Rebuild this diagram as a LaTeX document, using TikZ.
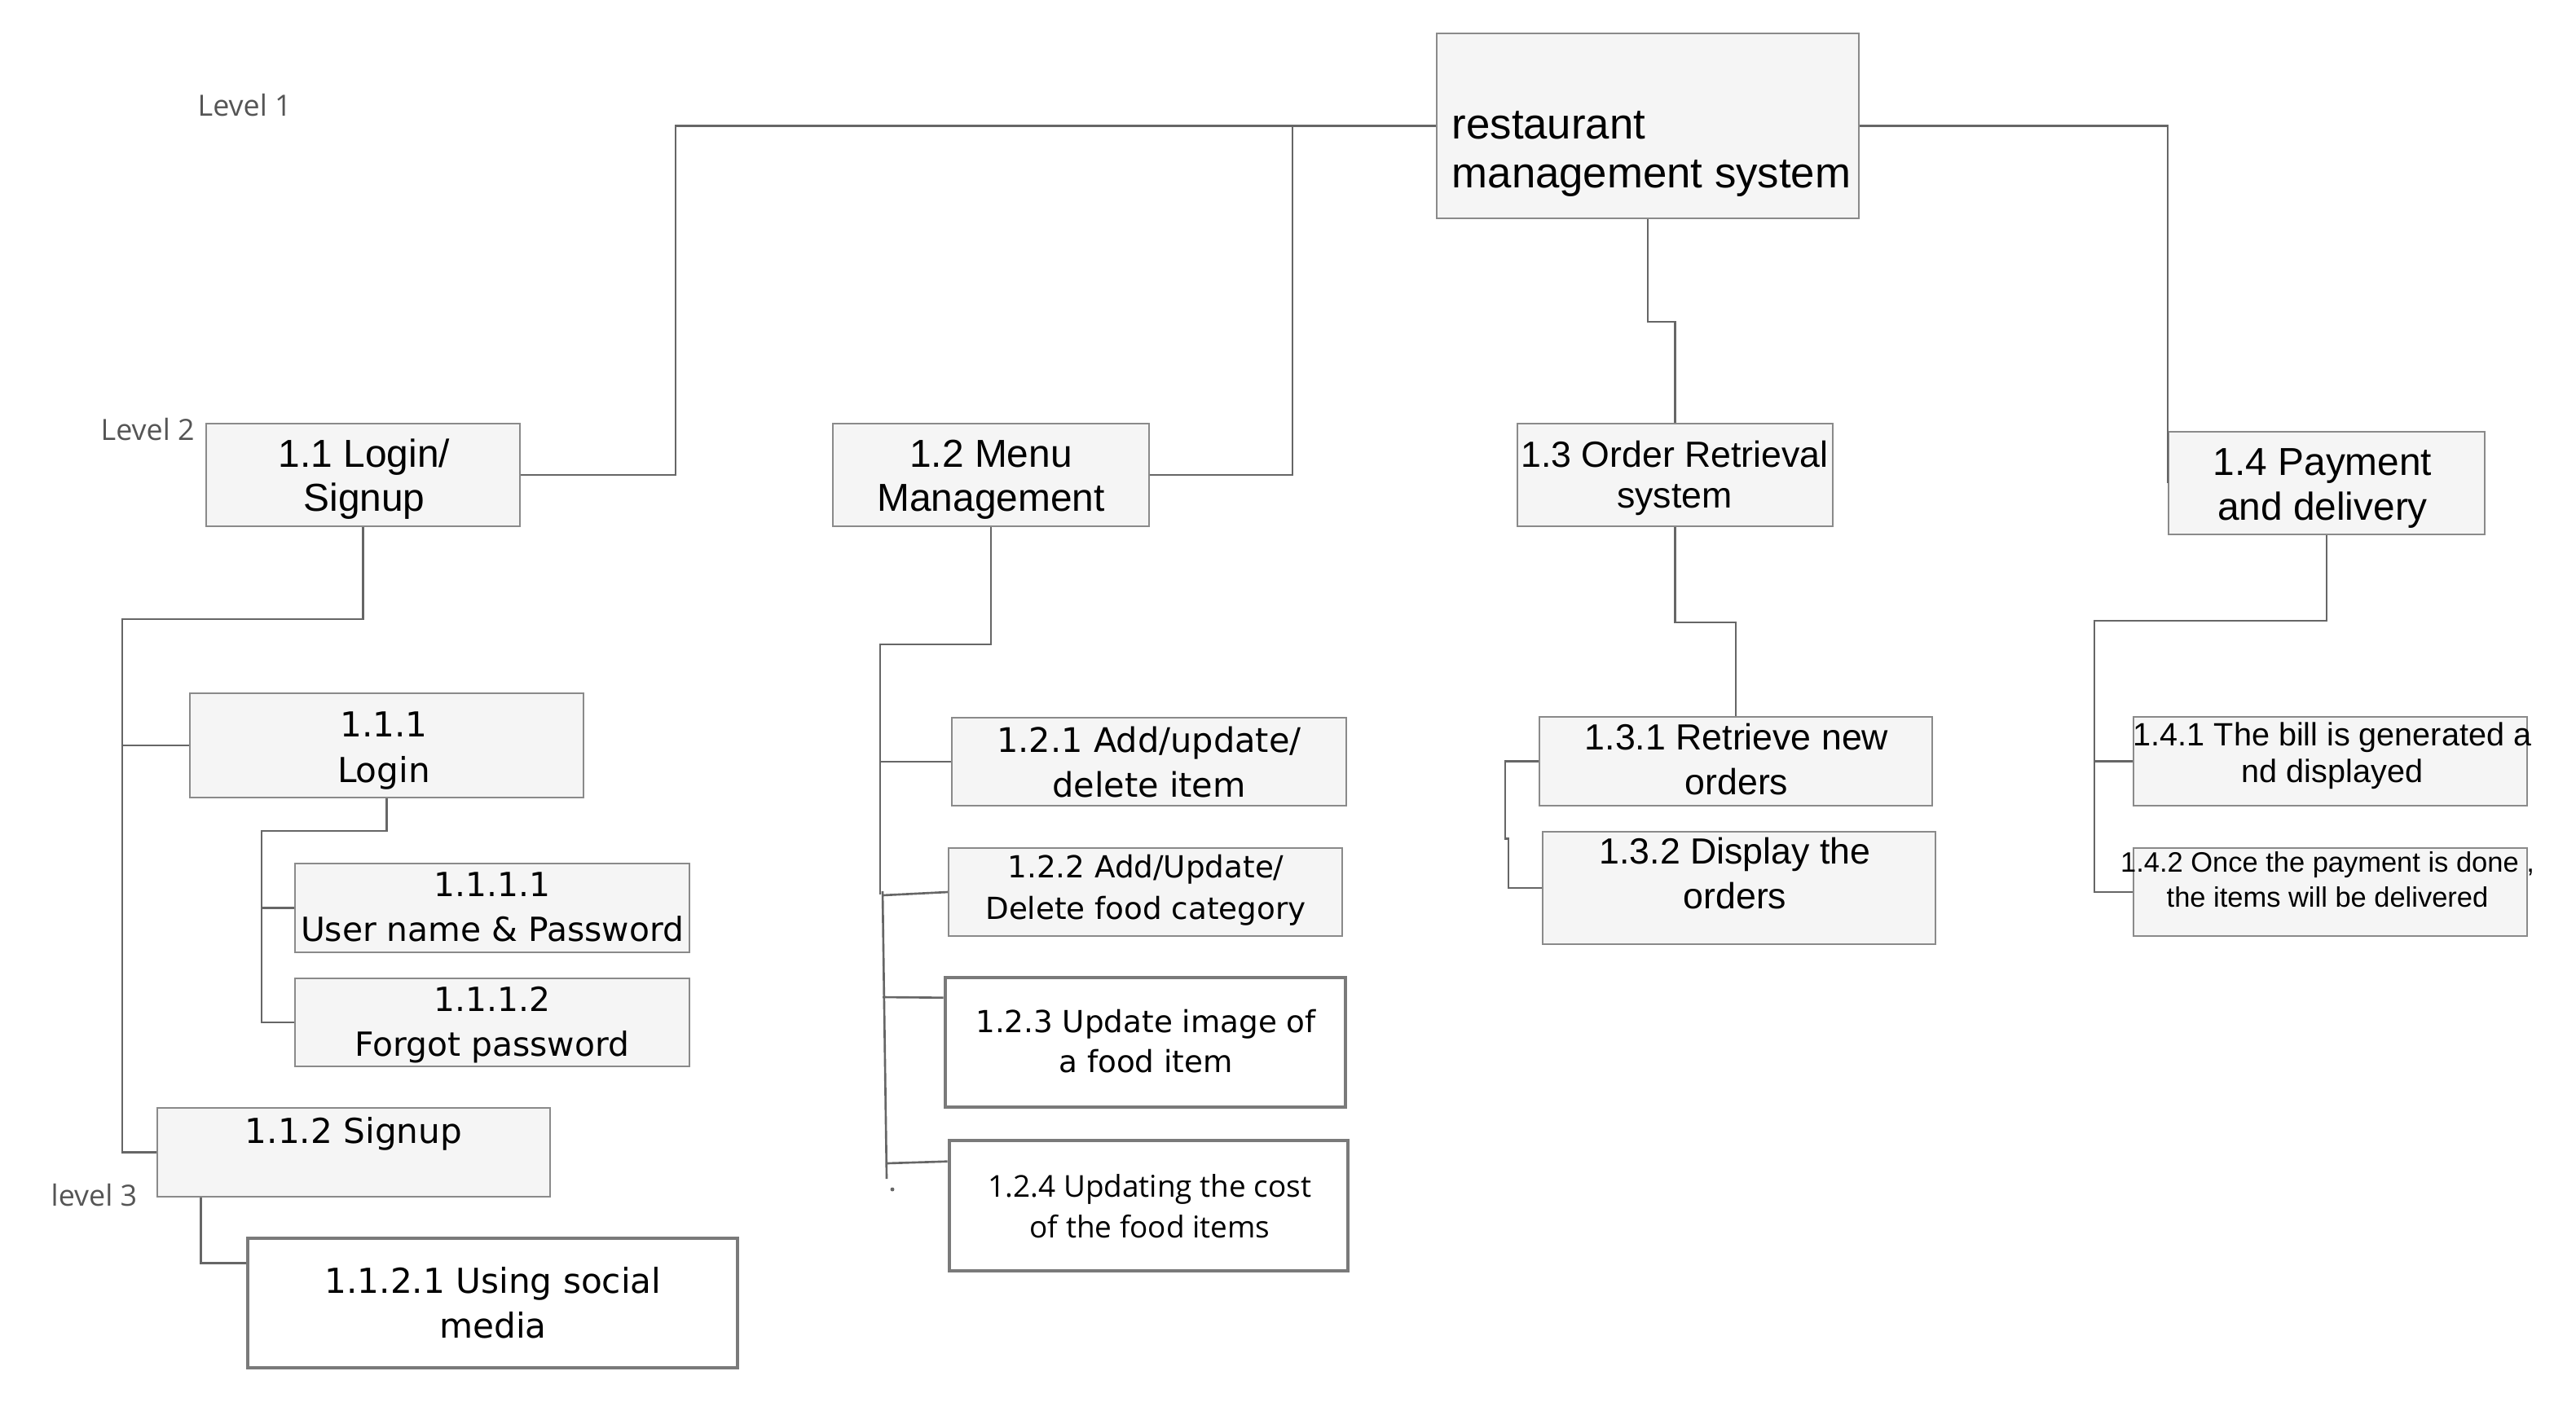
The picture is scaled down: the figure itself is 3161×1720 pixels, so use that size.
\documentclass[tikz,border=0pt]{standalone}
\usepackage{fontspec}
\setmainfont{Liberation Sans}
\newfontfamily\dejavufont{DejaVu Sans}
\newfontfamily\opensansfont{Open Sans}
\usetikzlibrary{calc}
\definecolor{boxfill}{HTML}{F5F5F5}
\definecolor{boxline}{HTML}{8A8A8A}
\definecolor{thickline}{HTML}{7A7A7A}
\definecolor{linkline}{HTML}{666666}
\definecolor{levelgray}{HTML}{555555}
\tikzset{
  box/.style={draw=boxline, fill=boxfill, line width=0.6pt, inner sep=0pt},
  boldbox/.style={draw=thickline, fill=white, line width=1.3pt, inner sep=0pt},
  txt/.style={align=center, inner sep=0pt, anchor=base},
  arial/.style 2 args={txt, font=\fontsize{#1}{#2}\selectfont},
  dejavu/.style 2 args={txt, font=\dejavufont\fontsize{#1}{#2}\selectfont},
  opens/.style 2 args={txt, font=\opensansfont\fontsize{#1}{#2}\selectfont},
  conn/.style={draw=linkline, line width=0.75pt},
  level/.style={anchor=base west, inner sep=0pt, text=levelgray, font=\opensansfont\fontsize{10.2}{12}\selectfont}
}
\begin{document}
\begin{tikzpicture}[x=0.01cm, y=0.01cm]
\useasboundingbox (0,0) rectangle (3161,-1720);

\node[level] (lv1) at (242,-142) {Level 1};
\node[level] (lv2) at (123,-540) {Level 2};
\node[level] (lv3) at (62,-1480) {level 3};

\node[box, minimum width=5.18cm, minimum height=2.27cm] (root) at (2022,-154.5) {};
\node[box, minimum width=3.85cm, minimum height=1.26cm] (p11) at (445.5,-583) {};
\node[box, minimum width=3.88cm, minimum height=1.26cm] (p12) at (1216,-583) {};
\node[box, minimum width=3.87cm, minimum height=1.26cm] (p13) at (2055.5,-583) {};
\node[box, minimum width=3.88cm, minimum height=1.26cm] (p14) at (2855,-593) {};
\node[box, minimum width=4.83cm, minimum height=1.28cm] (p111) at (474.5,-915) {};
\node[box, minimum width=4.84cm, minimum height=1.09cm] (p1111) at (604,-1114.5) {};
\node[box, minimum width=4.84cm, minimum height=1.08cm] (p1112) at (604,-1255) {};
\node[box, minimum width=4.82cm, minimum height=1.09cm] (p112) at (434,-1414.5) {};
\node[boldbox, minimum width=6.01cm, minimum height=1.59cm] (p1121) at (604.5,-1599.5) {};
\node[box, minimum width=4.84cm, minimum height=1.08cm] (p121) at (1410,-935) {};
\node[box, minimum width=4.83cm, minimum height=1.08cm] (p122) at (1405.5,-1095) {};
\node[boldbox, minimum width=4.91cm, minimum height=1.59cm] (p123) at (1405.5,-1279.5) {};
\node[boldbox, minimum width=4.89cm, minimum height=1.60cm] (p124) at (1409.5,-1480) {};
\node[box, minimum width=4.82cm, minimum height=1.09cm] (p131) at (2130,-934.5) {};
\node[box, minimum width=4.82cm, minimum height=1.38cm] (p132) at (2134,-1090) {};
\node[box, minimum width=4.83cm, minimum height=1.09cm] (p141) at (2859.5,-934.5) {};
\node[box, minimum width=4.83cm, minimum height=1.08cm] (p142) at (2859.5,-1095) {};

\node[arial={15}{17}, anchor=base west, align=left] (root-t) at (1781,-230) {restaurant\\management system};
\node[arial={13.6}{15.1}] (p11-t) at (447,-627) {1.1 Login/\\Signup};
\node[arial={13.6}{15.1}] (p12-t) at (1216,-627) {1.2 Menu\\Management};
\node[arial={12.7}{14.2}] (p13-t) at (2055,-623) {1.3 Order Retrieval\\system};
\node[arial={13.6}{15.6}] (p14-t) at (2850,-638) {1.4 Payment\\and delivery};
\node[dejavu={12}{15.9}] (p111-t) at (471,-960) {1.1.1\\Login};
\node[dejavu={11.6}{15.4}] (p1111-t) at (604,-1155) {1.1.1.1\\User name \& Password};
\node[dejavu={11.6}{15.6}] (p1112-t) at (604,-1296) {1.1.1.2\\Forgot password};
\node[dejavu={12}{15}] (p112-t) at (434,-1403) {1.1.2 Signup};
\node[dejavu={12}{15.6}] (p1121-t) at (605,-1642) {1.1.2.1 Using social\\media};
\node[dejavu={11.8}{15.6}] (p121-t) at (1410,-978) {1.2.1 Add/update/\\delete item};
\node[dejavu={10.6}{14.5}] (p122-t) at (1406,-1128) {1.2.2 Add/Update/\\Delete food category};
\node[dejavu={10.6}{13.7}] (p123-t) at (1406,-1316) {1.2.3 Update image of\\a food item};
\node[opens={10.5}{14.2}] (p124-t) at (1411,-1519) {1.2.4 Updating the cost\\of the food items};
\node[arial={12.7}{15.4}] (p131-t) at (2131,-975) {1.3.1 Retrieve new\\orders};
\node[arial={12.7}{15.4}] (p132-t) at (2129,-1115) {1.3.2 Display the\\orders};
\node[arial={11.25}{12.8}] (p141-t) at (2862,-960) {1.4.1 The bill is generated a\\nd displayed};
\node[arial={9.8}{12}] (p142-t) at (2856,-1113) {1.4.2 Once the payment is done ,\\the items will be delivered};

\coordinate (j11) at (829,-583);
\coordinate (j12) at (1586,-583);
\draw[conn] (root.west) -| (j11) -- (p11.east);
\draw[conn] (j12 |- root.west) -- (j12) -- (p12.east);
\draw[conn] (root.south) -- ++(0,-126) -| (p13.north);
\draw[conn] (root.east) -| (p14.west);

\coordinate (k11) at (150,-760);
\draw[conn] (p11.south) |- (k11) |- (p112.west);
\draw[conn] (k11 |- p111.west) -- (p111.west);
\coordinate (k111) at (321,-1020);
\draw[conn] (p111.south) |- (k111) |- (p1112.west);
\draw[conn] (k111 |- p1111.west) -- (p1111.west);
\draw[conn] ($(p112.south west)+(55,0)$) |- ($(p1121.north west)+(0,-33)$);

\coordinate (k12) at (1080,-791);
\draw[conn] (p12.south) |- (k12) -- (1080,-1098);
\draw[conn] (1083,-1094) -- (1088,-1447);
\draw[conn] (k12 |- p121.west) -- (p121.west);
\draw[conn] (1083,-1099) -- (p122.west);
\draw[conn] (1083,-1224) -- ($(p123.north west)+(0,-27)$);
\draw[conn] (1088,-1428) -- ($(p124.north west)+(0,-28)$);
\fill[linkline] (1095,-1460) circle (0.7pt);

\draw[conn] (p13.south) -- ++(0,-117) -| (p131.north);
\draw[conn] (p131.west) -- ++(-41,0) -- ++(0,-95) -- ++(4,0) |- (p132.west);

\coordinate (k14) at (2570,-762);
\draw[conn] (p14.south) |- (k14) |- (p142.west);
\draw[conn] (k14 |- p141.west) -- (p141.west);
\end{tikzpicture}
\end{document}
